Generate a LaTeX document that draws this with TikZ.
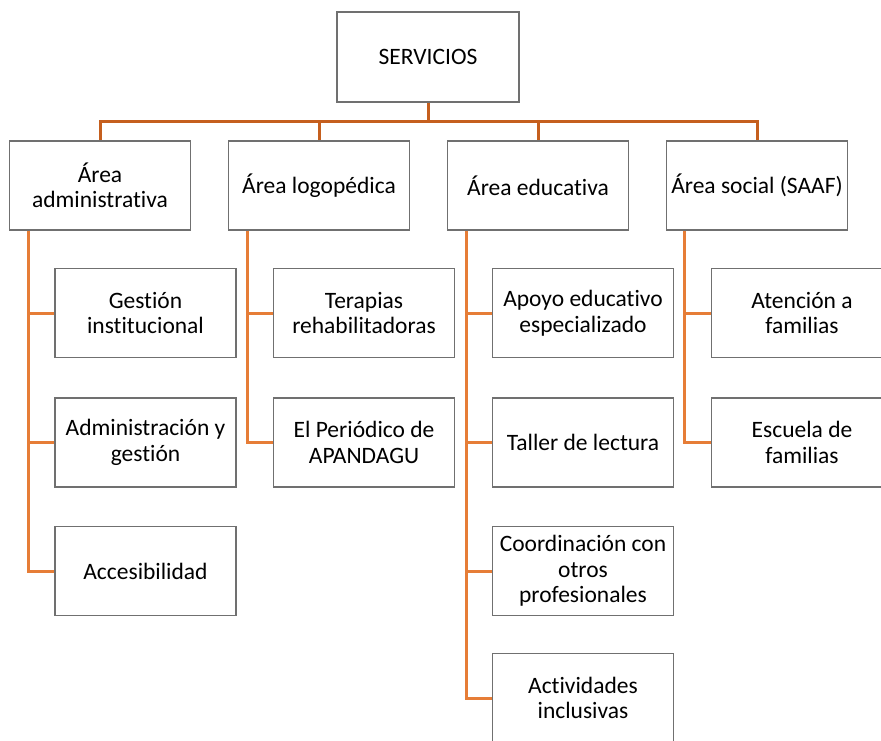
\documentclass[tikz,border=0pt]{standalone}
\usepackage{fontspec}
\setmainfont{Carlito}[Ligatures={NoCommon}]
\definecolor{busorange}{RGB}{197,95,30}
\definecolor{linkorange}{RGB}{230,125,55}
\definecolor{boxgray}{RGB}{112,112,112}
\begin{document}
\begin{tikzpicture}[x=1pt,y=-1pt,
  box/.style={draw=boxgray,line width=1.1pt,fill=white,minimum width=181pt,minimum height=89pt,align=center,inner sep=1pt,font=\fontsize{23.5}{25.5}\selectfont},
  bus/.style={draw=busorange,line width=3pt},
  link/.style={draw=linkorange,line width=3pt}]
\useasboundingbox (0,0) rectangle (881,740);
% top
\node[box,minimum width=182pt,minimum height=90pt] (serv) at (428,57) {SERVICIOS};
% level 1
\node[box] (adm) at (100,185.5) {Área\\administrativa};
\node[box] (logo) at (319,185.5) {Área logopédica};
\node[box] (edu) at (538,185.5) {Área educativa};
\node[box] (soc) at (757,185.5) {Área social (SAAF)};
% bus
\coordinate (busy) at (0,121);
\draw[bus] (serv.south) -- (serv.south |- busy);
\draw[bus] (adm.north) -- (adm.north |- busy) -- (soc.north |- busy) -- (soc.north);
\draw[bus] (logo.north) -- (logo.north |- busy);
\draw[bus] (edu.north) -- (edu.north |- busy);
% children
\node[box] (a1) at (145.5,313) {Gestión\\institucional};
\node[box] (a2) at (145.5,442.5) {Administración y\\gestión};
\node[box] (a3) at (145.5,571) {Accesibilidad};
\node[box] (l1) at (364,313) {Terapias\\rehabilitadoras};
\node[box] (l2) at (364,442.5) {El Periódico de\\APANDAGU};
\node[box] (e1) at (583,313) {Apoyo educativo\\especializado};
\node[box] (e2) at (583,442.5) {Taller de lectura};
\node[box] (e3) at (583,571) {Coordinación con\\otros\\profesionales};
\node[box] (e4) at (583,698) {Actividades\\inclusivas};
\node[box] (s1) at (802,313) {Atención a\\familias};
\node[box] (s2) at (802,442.5) {Escuela de\\familias};
% connectors
\coordinate (ax) at (28,0);
\coordinate (lx) at (247.5,0);
\coordinate (ex) at (466,0);
\coordinate (sx) at (684.5,0);
\draw[link] (adm.south -| ax) -- (a3.west -| ax) -- (a3.west);
\draw[link] (a1.west -| ax) -- (a1.west);
\draw[link] (a2.west -| ax) -- (a2.west);
\draw[link] (logo.south -| lx) -- (l2.west -| lx) -- (l2.west);
\draw[link] (l1.west -| lx) -- (l1.west);
\draw[link] (edu.south -| ex) -- (e4.west -| ex) -- (e4.west);
\draw[link] (e1.west -| ex) -- (e1.west);
\draw[link] (e2.west -| ex) -- (e2.west);
\draw[link] (e3.west -| ex) -- (e3.west);
\draw[link] (soc.south -| sx) -- (s2.west -| sx) -- (s2.west);
\draw[link] (s1.west -| sx) -- (s1.west);
\end{tikzpicture}
\end{document}
